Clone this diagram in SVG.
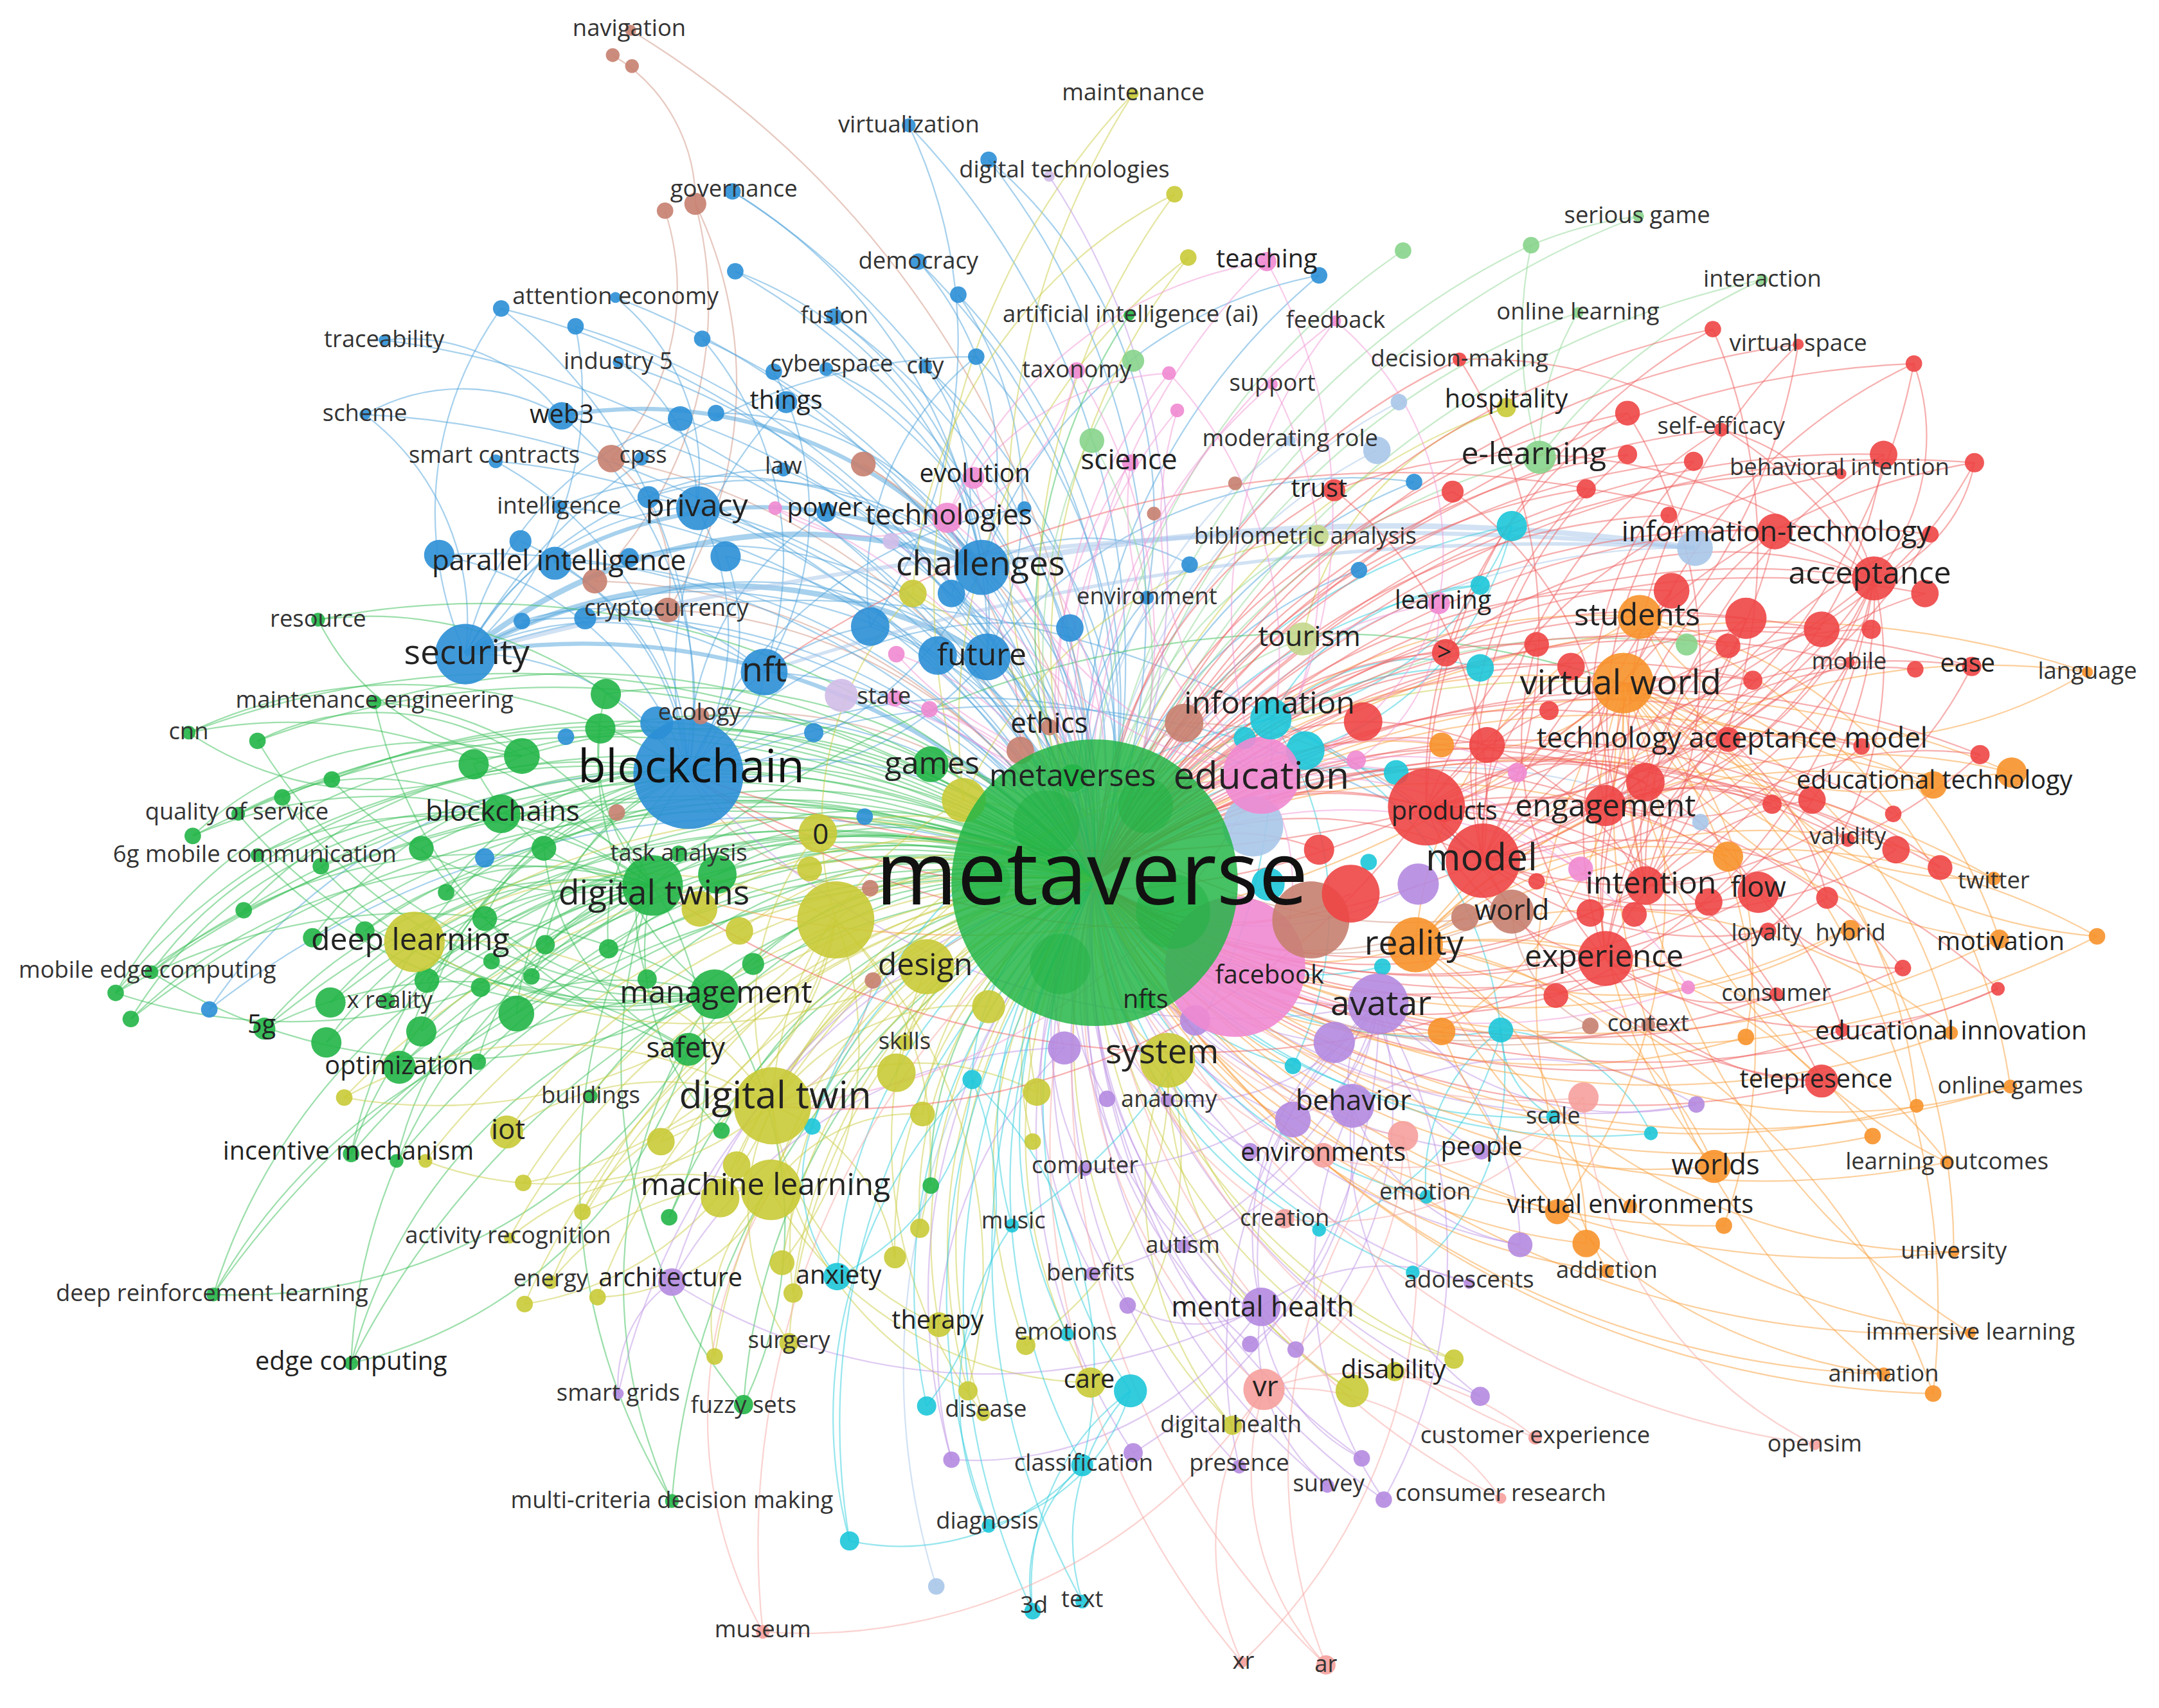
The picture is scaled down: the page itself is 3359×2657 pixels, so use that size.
<svg xmlns="http://www.w3.org/2000/svg" width="3359" height="2657" viewBox="0 0 3359 2657">
<defs><style>
#connectors path{fill:none;stroke-width:1.05;stroke-opacity:.5}
.eb{stroke:#4fa3dc}.eg{stroke:#3cc05a}.elg{stroke:#8fd896}.eo{stroke:#cbcd45}.ep{stroke:#bf96e6}.ec{stroke:#2fcddd}.eor{stroke:#f9a03c}.er{stroke:#f06060}.epk{stroke:#f298d6}.es{stroke:#f6a8a4}.ebr{stroke:#cf9482}.elb{stroke:#a6c5ea}
circle{fill-opacity:.9}
.r{fill:#ee4545}.g{fill:#22b547}.b{fill:#2b8fd6}.o{fill:#c9ca36}.p{fill:#b48ae0}.c{fill:#1cc6d9}.or{fill:#f7922a}.pk{fill:#f08ad2}.s{fill:#f5a09c}.br{fill:#c7806f}.lb{fill:#a9c6e9}.lg{fill:#87d48b}.lp{fill:#d2bde8}.lo{fill:#c3d78c}.dg{fill:#149a36;fill-opacity:.5}
.mv{fill:#22b545;fill-opacity:.84}
text{font-family:"Open Sans","Liberation Sans",Arial,sans-serif;fill:#222;text-anchor:middle}
.f1{font-size:17px;fill:#333}.f2{font-size:18.5px}.f3{font-size:20.5px}.f4{font-size:22.5px}.f5{font-size:25px}.f6{font-size:27.5px}.fb{font-size:33px;fill:#111}.fm{font-size:64px;fill:#111}
</style></defs>
<rect width="3359" height="2657" fill="#fff"/>
<g transform="scale(2.1422)">
<g id="connectors">
<g class="ebr">
<path d="M458 22A700 700 0 0 1 795 640"/><path d="M444 333A466 466 0 0 1 795 640"/><path d="M432 422A423 423 0 0 1 795 640"/><path d="M485 443A367 367 0 0 1 795 640"/><path d="M505 148A297 297 0 0 1 485 443"/><path d="M762 528A120 120 0 0 1 795 640"/><path d="M627 337A346 346 0 0 1 795 640"/><path d="M1098 662A304 304 0 0 1 795 640"/><path d="M860 525A132 132 0 0 0 795 640"/><path d="M1197 744A417 417 0 0 1 795 640"/><path d="M1155 745A375 375 0 0 1 795 640"/><path d="M444 333A118 118 0 0 1 485 443"/><path d="M509 520A310 310 0 0 1 795 640"/><path d="M1064 666A270 270 0 0 1 795 640"/>
<path d="M505 148A285 285 0 0 1 432 422"/><path d="M483 153A184 184 0 0 1 444 333"/><path d="M445 40A124 124 0 0 1 505 148"/><path d="M627 337A237 237 0 0 1 741 545"/><path d="M741 545A376 376 0 0 0 1098 662"/><path d="M860 525A275 275 0 0 1 1098 662"/><path d="M1155 745A100 100 0 0 1 1098 662"/><path d="M632 645A157 157 0 0 1 500 562"/><path d="M634 712A116 116 0 0 1 561 803"/>
</g>
<g class="eb">
<path d="M660 91A565 565 0 0 1 795 640"/><path d="M532 139A566 566 0 0 1 795 640"/><path d="M667 190A468 468 0 0 1 795 640"/><path d="M696 214A437 437 0 0 1 795 640"/><path d="M534 197A514 514 0 0 1 795 640"/><path d="M447 216A548 548 0 0 1 795 640"/><path d="M364 224A599 599 0 0 1 795 640"/><path d="M418 237A552 552 0 0 1 795 640"/><path d="M510 246A486 486 0 0 1 795 640"/><path d="M279 247A649 649 0 0 1 795 640"/><path d="M606 230A451 451 0 0 1 795 640"/><path d="M449 263A512 512 0 0 1 795 640"/><path d="M600 268A420 420 0 0 1 795 640"/><path d="M672 266A394 394 0 0 1 795 640"/><path d="M709 259A391 391 0 0 1 795 640"/><path d="M571 292A414 414 0 0 1 795 640"/><path d="M265 301A629 629 0 0 1 795 640"/><path d="M408 302A514 514 0 0 1 795 640"/><path d="M494 304A451 451 0 0 1 795 640"/><path d="M360 335A531 531 0 0 1 795 640"/><path d="M569 341A375 375 0 0 1 795 640"/><path d="M406 368A475 475 0 0 1 795 640"/><path d="M471 361A428 428 0 0 1 795 640"/><path d="M506 368A397 397 0 0 1 795 640"/><path d="M600 372A331 331 0 0 1 795 640"/><path d="M402 408A456 456 0 0 1 795 640"/><path d="M319 403A532 532 0 0 1 795 640"/><path d="M527 404A357 357 0 0 1 795 640"/><path d="M713 412A242 242 0 0 1 795 640"/><path d="M691 431A233 233 0 0 1 795 640"/><path d="M632 455A247 247 0 0 1 795 640"/><path d="M555 488A284 284 0 0 1 795 640"/><path d="M717 477A181 181 0 0 1 795 640"/><path d="M681 476A200 200 0 0 1 795 640"/><path d="M833 434A210 210 0 0 0 795 640"/><path d="M777 456A185 185 0 0 1 795 640"/><path d="M500 562A305 305 0 0 1 795 640"/><path d="M477 525A338 338 0 0 1 795 640"/><path d="M425 449A416 416 0 0 1 795 640"/><path d="M379 451A457 457 0 0 1 795 640"/><path d="M718 116A530 530 0 0 1 795 640"/><path d="M744 369A276 276 0 0 1 795 640"/><path d="M1027 350A371 371 0 0 0 795 640"/><path d="M864 410A240 240 0 0 0 795 640"/><path d="M958 200A469 469 0 0 0 795 640"/><path d="M152 733A650 650 0 0 1 795 640"/><path d="M987 414A297 297 0 0 0 795 640"/>
<path d="M338 475A184 184 0 0 1 500 562"/><path d="M408 302A276 276 0 0 1 500 562"/><path d="M506 368A194 194 0 0 1 500 562"/><path d="M402 408A183 183 0 0 1 500 562"/><path d="M360 335A267 267 0 0 1 500 562"/><path d="M265 301A189 189 0 0 1 338 475"/><path d="M265 301A143 143 0 0 1 408 302"/><path d="M279 247A140 140 0 0 1 408 302"/><path d="M364 224A364 364 0 0 1 500 562"/><path d="M555 488A92 92 0 0 1 500 562"/><path d="M338 475A217 217 0 0 1 555 488"/><path d="M713 412A260 260 0 0 1 500 562"/><path d="M717 477A233 233 0 0 1 500 562"/><path d="M532 139A385 385 0 0 1 717 477"/><path d="M660 91A365 365 0 0 1 632 455"/><path d="M718 116A338 338 0 0 1 833 434"/><path d="M667 190A227 227 0 0 1 713 412"/><path d="M606 230A271 271 0 0 1 717 477"/><path d="M600 268A183 183 0 0 1 713 412"/><path d="M672 266A166 166 0 0 1 691 431"/><path d="M152 733A388 388 0 0 1 500 562"/><path d="M338 475A199 199 0 0 1 506 368"/><path d="M500 562A416 416 0 0 1 916 563"/><path d="M338 475A754 754 0 0 1 1077 625"/><path d="M500 562A580 580 0 0 1 1077 625"/>
<path d="M364 224A252 252 0 0 0 338 475"/><path d="M418 237A251 251 0 0 1 338 475"/><path d="M447 216A163 163 0 0 1 506 368"/><path d="M510 246A246 246 0 0 1 555 488"/><path d="M449 263A119 119 0 0 1 506 368"/><path d="M534 197A280 280 0 0 1 713 412"/><path d="M696 214A264 264 0 0 1 717 477"/><path d="M709 259A211 211 0 0 0 632 455"/><path d="M562 270A218 218 0 0 1 555 488"/><path d="M571 292A279 279 0 0 0 500 562"/><path d="M494 304A231 231 0 0 0 338 475"/><path d="M520 300A220 220 0 0 1 713 412"/><path d="M471 361A247 247 0 0 1 713 412"/><path d="M378 393A208 208 0 0 1 500 562"/><path d="M319 403A236 236 0 0 1 500 562"/><path d="M457 405A270 270 0 0 1 717 477"/><path d="M527 404A160 160 0 0 1 500 562"/><path d="M425 449A293 293 0 0 1 717 477"/><path d="M379 451A180 180 0 0 1 555 488"/><path d="M632 455A170 170 0 0 0 500 562"/><path d="M681 476A343 343 0 0 0 338 475"/><path d="M777 456A296 296 0 0 0 500 562"/><path d="M600 372A215 215 0 0 0 500 562"/><path d="M569 341A267 267 0 0 0 338 475"/><path d="M406 368A310 310 0 0 1 713 412"/><path d="M744 369A311 311 0 0 0 500 562"/><path d="M864 410A151 151 0 0 0 713 412"/><path d="M1027 350A335 335 0 0 0 717 477"/><path d="M958 200A324 324 0 0 0 713 412"/><path d="M709 259A429 429 0 0 0 338 475"/>
<path d="M338 475A380 380 0 0 1 713 412" style="stroke-width:4"/><path d="M338 475A379 379 0 0 1 717 477" style="stroke-width:4"/><path d="M408 302A324 324 0 0 1 713 412" style="stroke-width:3"/><path d="M402 408A311 311 0 0 1 713 412" style="stroke-width:3"/><path d="M338 475A486 486 0 0 1 795 640" style="stroke-width:3"/>
</g>
<g class="elb">
<path d="M1231 398A499 499 0 0 0 795 640"/><path d="M1000 327A374 374 0 0 0 795 640"/><path d="M1016 292A412 412 0 0 0 795 640"/><path d="M937 320A350 350 0 0 0 795 640"/><path d="M1235 597A442 442 0 0 0 795 640"/><path d="M680 1152A525 525 0 0 1 795 640"/><path d="M910 600A122 122 0 0 0 795 640"/>
<path d="M713 412A1500 1500 0 0 1 1231 398" style="stroke-width:4"/><path d="M338 475A2500 2500 0 0 1 1231 398" style="stroke-width:3"/><path d="M555 488A1800 1800 0 0 1 1231 398" style="stroke-width:2.5"/>
</g>
<g class="eg">
<path d="M231 450A595 595 0 0 1 795 640"/><path d="M272 510A539 539 0 0 1 795 640"/><path d="M137 532A667 667 0 0 1 795 640"/><path d="M187 538A617 617 0 0 1 795 640"/><path d="M241 566A559 559 0 0 1 795 640"/><path d="M205 579A593 593 0 0 1 795 640"/><path d="M173 591A624 624 0 0 1 795 640"/><path d="M140 607A656 656 0 0 1 795 640"/><path d="M187 621A608 608 0 0 1 795 640"/><path d="M233 629A562 562 0 0 1 795 640"/><path d="M177 661A618 618 0 0 1 795 640"/><path d="M227 681A569 569 0 0 1 795 640"/><path d="M265 676A531 531 0 0 1 795 640"/><path d="M110 706A688 688 0 0 1 795 640"/><path d="M84 721A716 716 0 0 1 795 640"/><path d="M95 740A707 707 0 0 1 795 640"/><path d="M192 747A612 612 0 0 1 795 640"/><path d="M240 728A562 562 0 0 1 795 640"/><path d="M281 727A521 521 0 0 1 795 640"/><path d="M237 757A570 570 0 0 1 795 640"/><path d="M306 749A501 501 0 0 1 795 640"/><path d="M290 775A523 523 0 0 1 795 640"/><path d="M347 771A467 467 0 0 1 795 640"/><path d="M375 736A431 431 0 0 1 795 640"/><path d="M310 712A490 490 0 0 1 795 640"/><path d="M255 838A575 575 0 0 1 795 640"/><path d="M288 843A546 546 0 0 1 795 640"/><path d="M155 940A707 707 0 0 1 795 640"/><path d="M255 990A643 643 0 0 1 795 640"/><path d="M540 1020A458 458 0 0 1 795 640"/><path d="M488 1090A545 545 0 0 1 795 640"/><path d="M486 884A394 394 0 0 1 795 640"/><path d="M524 821A326 326 0 0 1 795 640"/><path d="M676 861A251 251 0 0 1 795 640"/><path d="M429 796A398 398 0 0 1 795 640"/><path d="M519 722A288 288 0 0 1 795 640"/><path d="M500 762A319 319 0 0 1 795 640"/><path d="M474 643A321 321 0 0 1 795 640"/><path d="M521 635A274 274 0 0 1 795 640"/><path d="M364 591A434 434 0 0 1 795 640"/><path d="M440 504A380 380 0 0 1 795 640"/><path d="M436 529A376 376 0 0 1 795 640"/><path d="M379 549A426 426 0 0 1 795 640"/><path d="M344 555A459 459 0 0 1 795 640"/><path d="M306 616A490 490 0 0 1 795 640"/><path d="M395 616A401 401 0 0 1 795 640"/><path d="M324 648A471 471 0 0 1 795 640"/><path d="M352 667A444 444 0 0 1 795 640"/><path d="M396 686A402 402 0 0 1 795 640"/><path d="M442 689A356 356 0 0 1 795 640"/><path d="M357 698A442 442 0 0 1 795 640"/><path d="M386 709A415 415 0 0 1 795 640"/><path d="M470 711A333 333 0 0 1 795 640"/><path d="M676 555A146 146 0 0 1 795 640"/><path d="M493 620A303 303 0 0 1 795 640"/><path d="M820 229A412 412 0 0 0 795 640"/><path d="M547 700A255 255 0 0 1 795 640"/>
<path d="M137 532A364 364 0 0 1 500 562"/><path d="M187 621A288 288 0 0 1 474 643"/><path d="M110 706A370 370 0 0 1 474 643"/><path d="M192 747A301 301 0 0 1 474 643"/><path d="M255 990A412 412 0 0 1 474 643"/><path d="M255 990A376 376 0 0 1 519 722"/><path d="M155 940A437 437 0 0 1 474 643"/><path d="M255 838A369 369 0 0 1 500 562"/><path d="M231 450A291 291 0 0 1 500 562"/><path d="M272 510A241 241 0 0 1 474 643"/><path d="M173 591A191 191 0 0 1 364 591"/><path d="M290 775A299 299 0 0 1 500 562"/><path d="M240 728A250 250 0 0 1 474 643"/><path d="M84 721A445 445 0 0 1 500 562"/><path d="M95 740A392 392 0 0 1 474 643"/><path d="M540 1020A385 385 0 0 1 474 643"/><path d="M488 1090A369 369 0 0 1 519 722"/><path d="M364 591A121 121 0 0 1 474 643"/><path d="M187 538A192 192 0 0 1 379 549"/><path d="M84 721A435 435 0 0 1 519 722"/><path d="M155 940A424 424 0 0 1 519 722"/><path d="M110 706A279 279 0 0 1 364 591"/><path d="M140 607A336 336 0 0 1 474 643"/><path d="M137 532A355 355 0 0 1 474 643"/><path d="M192 747A308 308 0 0 1 500 762"/><path d="M255 838A293 293 0 0 1 474 643"/><path d="M290 775A235 235 0 0 1 519 722"/><path d="M474 643A720 720 0 0 1 1179 496"/>
<path d="M187 538A380 380 0 0 0 519 722"/><path d="M241 566A245 245 0 0 0 474 643"/><path d="M205 579A345 345 0 0 0 519 722"/><path d="M233 629A300 300 0 0 0 519 722"/><path d="M177 661A337 337 0 0 1 500 562"/><path d="M227 681A297 297 0 0 1 500 562"/><path d="M265 676A212 212 0 0 1 474 643"/><path d="M281 727A274 274 0 0 1 500 562"/><path d="M237 757A263 263 0 0 1 474 643"/><path d="M306 749A252 252 0 0 1 500 562"/><path d="M347 771A180 180 0 0 1 474 643"/><path d="M375 736A214 214 0 0 1 500 562"/><path d="M310 712A178 178 0 0 1 474 643"/><path d="M288 843A273 273 0 0 1 474 643"/><path d="M486 884A241 241 0 0 0 474 643"/><path d="M524 821A185 185 0 0 1 474 643"/><path d="M440 504A143 143 0 0 0 474 643"/><path d="M436 529A210 210 0 0 0 519 722"/><path d="M344 555A157 157 0 0 0 474 643"/><path d="M306 616A238 238 0 0 0 519 722"/><path d="M395 616A180 180 0 0 0 500 762"/><path d="M324 648A196 196 0 0 1 500 562"/><path d="M352 667A181 181 0 0 1 500 562"/><path d="M396 686A162 162 0 0 1 500 562"/><path d="M442 689A139 139 0 0 1 500 562"/><path d="M357 698A164 164 0 0 0 519 722"/><path d="M386 709A110 110 0 0 1 474 643"/><path d="M470 711A152 152 0 0 1 500 562"/><path d="M95 740A307 307 0 0 1 364 591"/><path d="M84 721A341 341 0 0 1 379 549"/><path d="M140 607A246 246 0 0 1 379 549"/><path d="M137 532A243 243 0 0 0 379 549"/><path d="M231 450A178 178 0 0 0 379 549"/><path d="M272 510A339 339 0 0 0 500 762"/><path d="M255 990A335 335 0 0 0 500 762"/><path d="M155 940A388 388 0 0 0 500 762"/><path d="M488 1090A447 447 0 0 1 474 643"/><path d="M540 1020A299 299 0 0 0 519 722"/><path d="M110 706A409 409 0 0 0 519 722"/><path d="M84 721A398 398 0 0 0 474 643"/><path d="M187 621A347 347 0 0 0 519 722"/><path d="M173 591A373 373 0 0 0 519 722"/>
</g>
<g class="elg">
<path d="M1190 157A624 624 0 0 0 795 640"/><path d="M1112 178A560 560 0 0 0 795 640"/><path d="M1019 182A510 510 0 0 0 795 640"/><path d="M1280 203A653 653 0 0 0 795 640"/><path d="M1146 227A542 542 0 0 0 795 640"/><path d="M1118 332A446 446 0 0 0 795 640"/><path d="M823 262A379 379 0 0 0 795 640"/><path d="M793 320A320 320 0 0 1 795 640"/><path d="M1225 468A463 463 0 0 0 795 640"/><path d="M946 464A232 232 0 0 0 795 640"/><path d="M957 389A299 299 0 0 0 795 640"/>
<path d="M1190 157A300 300 0 0 0 1112 178"/><path d="M1280 203A420 420 0 0 0 1118 332"/><path d="M1146 227A200 200 0 0 0 1118 332"/><path d="M1112 178A320 320 0 0 0 1118 332"/>
</g>
<g class="eo">
<path d="M823 68A573 573 0 0 0 795 640"/><path d="M853 141A502 502 0 0 0 795 640"/><path d="M863 187A458 458 0 0 0 795 640"/><path d="M1094 296A456 456 0 0 0 795 640"/><path d="M301 684A496 496 0 0 1 795 640"/><path d="M250 797A567 567 0 0 1 795 640"/><path d="M368 822A464 464 0 0 1 795 640"/><path d="M480 829A367 367 0 0 1 795 640"/><path d="M309 843A527 527 0 0 1 795 640"/><path d="M380 859A469 469 0 0 1 795 640"/><path d="M423 880A443 443 0 0 1 795 640"/><path d="M370 899A498 498 0 0 1 795 640"/><path d="M400 931A490 490 0 0 1 795 640"/><path d="M381 947A515 515 0 0 1 795 640"/><path d="M434 942A471 471 0 0 1 795 640"/><path d="M561 803A287 287 0 0 1 795 640"/><path d="M560 864A325 325 0 0 1 795 640"/><path d="M523 870A356 356 0 0 1 795 640"/><path d="M535 846A332 332 0 0 1 795 640"/><path d="M568 917A358 358 0 0 1 795 640"/><path d="M576 939A371 371 0 0 1 795 640"/><path d="M519 985A442 442 0 0 1 795 640"/><path d="M573 975A402 402 0 0 1 795 640"/><path d="M650 913A309 309 0 0 1 795 640"/><path d="M668 892A282 282 0 0 1 795 640"/><path d="M682 962A341 341 0 0 1 795 640"/><path d="M703 1010A381 381 0 0 1 795 640"/><path d="M714 1027A395 395 0 0 1 795 640"/><path d="M745 977A341 341 0 0 1 795 640"/><path d="M792 1004A364 364 0 0 1 795 640"/><path d="M895 1035A407 407 0 0 1 795 640"/><path d="M982 1010A415 415 0 0 1 795 640"/><path d="M1013 996A417 417 0 0 1 795 640"/><path d="M1056 987A434 434 0 0 1 795 640"/><path d="M848 770A142 142 0 0 1 795 640"/><path d="M651 779A200 200 0 0 1 795 640"/><path d="M753 793A159 159 0 0 1 795 640"/><path d="M670 809A210 210 0 0 1 795 640"/><path d="M750 829A194 194 0 0 1 795 640"/><path d="M673 702A137 137 0 0 1 795 640"/><path d="M607 668A190 190 0 0 1 795 640"/><path d="M594 605A204 204 0 0 1 795 640"/><path d="M588 631A207 207 0 0 1 795 640"/><path d="M700 581A112 112 0 0 1 795 640"/><path d="M663 431A247 247 0 0 1 795 640"/><path d="M718 731A119 119 0 0 1 795 640"/><path d="M657 757A181 181 0 0 1 795 640"/><path d="M508 660A287 287 0 0 1 795 640"/><path d="M537 676A260 260 0 0 1 795 640"/>
<path d="M301 684A286 286 0 0 1 561 803"/><path d="M368 822A193 193 0 0 1 561 803"/><path d="M250 797A310 310 0 0 1 561 803"/><path d="M370 899A193 193 0 0 1 560 864"/><path d="M400 931A173 173 0 0 1 560 864"/><path d="M573 975A171 171 0 0 1 561 803"/><path d="M682 962A199 199 0 0 1 561 803"/><path d="M792 1004A271 271 0 0 1 560 864"/><path d="M982 1010A273 273 0 0 1 848 770"/><path d="M895 1035A267 267 0 0 1 848 770"/><path d="M1056 987A299 299 0 0 1 848 770"/><path d="M301 684A306 306 0 0 1 607 668"/><path d="M423 880A158 158 0 0 1 561 803"/><path d="M519 985A128 128 0 0 1 560 864"/><path d="M703 1010A251 251 0 0 1 561 803"/><path d="M561 803A428 428 0 0 1 916 563"/><path d="M561 803A690 690 0 0 1 1179 496"/>
<path d="M480 829A205 205 0 0 0 607 668"/><path d="M309 843A255 255 0 0 0 561 803"/><path d="M380 859A297 297 0 0 0 607 668"/><path d="M423 880A301 301 0 0 0 607 668"/><path d="M434 942A148 148 0 0 0 560 864"/><path d="M381 947A231 231 0 0 0 561 803"/><path d="M568 917A252 252 0 0 0 607 668"/><path d="M576 939A256 256 0 0 1 673 702"/><path d="M650 913A142 142 0 0 0 561 803"/><path d="M668 892A232 232 0 0 0 607 668"/><path d="M703 1010A355 355 0 0 0 607 668"/><path d="M714 1027A328 328 0 0 1 673 702"/><path d="M745 977A231 231 0 0 0 848 770"/><path d="M792 1004A241 241 0 0 0 848 770"/><path d="M753 793A192 192 0 0 0 561 803"/><path d="M670 809A123 123 0 0 0 560 864"/><path d="M594 605A201 201 0 0 0 561 803"/><path d="M700 581A262 262 0 0 0 561 803"/><path d="M663 431A244 244 0 0 0 607 668"/><path d="M718 731A173 173 0 0 0 561 803"/><path d="M853 141A347 347 0 0 0 663 431"/><path d="M863 187A426 426 0 0 0 700 581"/><path d="M823 68A528 528 0 0 0 700 581"/><path d="M1094 296A224 224 0 0 0 946 464"/><path d="M957 389A320 320 0 0 0 700 581"/><path d="M301 684A372 372 0 0 0 673 702"/><path d="M250 797A380 380 0 0 0 607 668"/>
</g>
<g class="ep">
<path d="M762 128A513 513 0 0 1 795 640"/><path d="M488 931A423 423 0 0 1 795 640"/><path d="M449 1012A508 508 0 0 1 795 640"/><path d="M804 798A158 158 0 0 1 795 640"/><path d="M848 799A168 168 0 0 1 795 640"/><path d="M788 849A209 209 0 0 1 795 640"/><path d="M793 925A285 285 0 0 1 795 640"/><path d="M819 948A309 309 0 0 1 795 640"/><path d="M860 905A273 273 0 0 1 795 640"/><path d="M916 949A332 332 0 0 1 795 640"/><path d="M908 976A354 354 0 0 1 795 640"/><path d="M941 980A370 370 0 0 1 795 640"/><path d="M691 1060A433 433 0 0 1 795 640"/><path d="M823 1055A416 416 0 0 1 795 640"/><path d="M900 1065A438 438 0 0 1 795 640"/><path d="M989 1059A462 462 0 0 1 795 640"/><path d="M964 1079A470 470 0 0 1 795 640"/><path d="M1005 1089A496 496 0 0 1 795 640"/><path d="M1075 1014A467 467 0 0 1 795 640"/><path d="M982 803A248 248 0 0 1 795 640"/><path d="M939 813A225 225 0 0 1 795 640"/><path d="M908 836A226 226 0 0 1 795 640"/><path d="M1076 836A343 343 0 0 1 795 640"/><path d="M1104 904A406 406 0 0 1 795 640"/><path d="M1067 932A399 399 0 0 1 795 640"/><path d="M1001 729A224 224 0 0 1 795 640"/><path d="M969 757A210 210 0 0 1 795 640"/><path d="M773 761A123 123 0 0 1 795 640"/><path d="M868 741A125 125 0 0 1 795 640"/><path d="M1030 642A235 235 0 0 1 795 640"/><path d="M1232 802A466 466 0 0 1 795 640"/><path d="M611 505A228 228 0 0 1 795 640"/><path d="M647 393A288 288 0 0 1 795 640"/>
<path d="M982 803A76 76 0 0 1 1001 729"/><path d="M916 949A236 236 0 0 1 1001 729"/><path d="M964 1079A139 139 0 0 1 916 949"/><path d="M1005 1089A287 287 0 0 1 982 803"/><path d="M1075 1014A231 231 0 0 1 982 803"/><path d="M488 931A332 332 0 0 1 773 761"/><path d="M449 1012A90 90 0 0 1 488 931"/><path d="M691 1060A310 310 0 0 1 773 761"/><path d="M900 1065A351 351 0 0 1 1001 729"/><path d="M1076 836A131 131 0 0 1 1001 729"/><path d="M1232 802A242 242 0 0 1 1001 729"/><path d="M1104 904A158 158 0 0 1 982 803"/><path d="M989 1059A132 132 0 0 1 916 949"/><path d="M1001 729A528 528 0 0 1 500 562"/>
<path d="M969 757A199 199 0 0 0 916 949"/><path d="M939 813A104 104 0 0 0 1001 729"/><path d="M1104 904A203 203 0 0 0 1001 729"/><path d="M1067 932A152 152 0 0 0 916 949"/><path d="M941 980A258 258 0 0 0 1001 729"/><path d="M908 976A188 188 0 0 0 982 803"/><path d="M819 948A97 97 0 0 0 916 949"/><path d="M691 1060A251 251 0 0 0 916 949"/><path d="M823 1055A371 371 0 0 0 1001 729"/><path d="M793 925A286 286 0 0 0 1001 729"/><path d="M860 905A225 225 0 0 0 1001 729"/><path d="M788 849A244 244 0 0 0 1001 729"/><path d="M848 799A168 168 0 0 0 1001 729"/><path d="M488 931A428 428 0 0 0 916 949"/><path d="M1232 802A250 250 0 0 0 982 803"/><path d="M1005 1089A360 360 0 0 0 1001 729"/>
</g>
<g class="ec">
<path d="M1098 382A398 398 0 0 0 795 640"/><path d="M1075 425A353 353 0 0 0 795 640"/><path d="M1075 485A320 320 0 0 0 795 640"/><path d="M923 522A174 174 0 0 0 795 640"/><path d="M948 545A180 180 0 0 0 795 640"/><path d="M1014 561A233 233 0 0 0 795 640"/><path d="M1090 748A314 314 0 0 1 795 640"/><path d="M1128 811A374 374 0 0 1 795 640"/><path d="M1199 823A443 443 0 0 1 795 640"/><path d="M1036 869A332 332 0 0 1 795 640"/><path d="M1026 924A366 366 0 0 1 795 640"/><path d="M958 893A301 301 0 0 1 795 640"/><path d="M939 774A197 197 0 0 1 795 640"/><path d="M735 890A257 257 0 0 1 795 640"/><path d="M608 927A343 343 0 0 1 795 640"/><path d="M590 818A271 271 0 0 1 795 640"/><path d="M706 784A169 169 0 0 1 795 640"/><path d="M775 969A330 330 0 0 1 795 640"/><path d="M673 1021A400 400 0 0 1 795 640"/><path d="M821 1010A371 371 0 0 1 795 640"/><path d="M786 1064A424 424 0 0 1 795 640"/><path d="M718 1108A474 474 0 0 1 795 640"/><path d="M617 1119A511 511 0 0 1 795 640"/><path d="M750 1170A532 532 0 0 1 795 640"/><path d="M786 1163A523 523 0 0 1 795 640"/><path d="M1004 702A218 218 0 0 1 795 640"/>
<path d="M750 1170A112 112 0 0 1 786 1064"/><path d="M750 1170A175 175 0 0 1 821 1010"/><path d="M786 1163A157 157 0 0 1 821 1010"/><path d="M617 1119A347 347 0 0 1 706 784"/><path d="M718 1108A219 219 0 0 1 735 890"/><path d="M608 927A110 110 0 0 1 590 818"/><path d="M1098 382A224 224 0 0 1 923 522"/><path d="M1128 811A73 73 0 0 1 1090 748"/><path d="M1036 869A133 133 0 0 1 1090 748"/>
<path d="M1075 425A180 180 0 0 0 923 522"/><path d="M1075 485A156 156 0 0 0 923 522"/><path d="M948 545A222 222 0 0 0 1098 382"/><path d="M1090 748A281 281 0 0 0 923 522"/><path d="M1199 823A132 132 0 0 0 1090 748"/><path d="M1026 924A187 187 0 0 0 1090 748"/><path d="M958 893A196 196 0 0 0 1090 748"/><path d="M939 774A252 252 0 0 0 923 522"/><path d="M673 1021A239 239 0 0 0 706 784"/><path d="M608 927A173 173 0 0 0 706 784"/><path d="M786 1064A291 291 0 0 0 706 784"/><path d="M718 1108A142 142 0 0 0 821 1010"/><path d="M617 1119A178 178 0 0 0 786 1064"/><path d="M590 818A445 445 0 0 1 923 522"/><path d="M735 890A413 413 0 0 0 923 522"/>
</g>
<g class="eor">
<path d="M1516 488A737 737 0 0 0 795 640"/><path d="M1179 496A410 410 0 0 0 795 640"/><path d="M1191 448A440 440 0 0 0 795 640"/><path d="M1047 541A271 271 0 0 0 795 640"/><path d="M1255 622A460 460 0 0 0 795 640"/><path d="M1404 570A613 613 0 0 0 795 640"/><path d="M1461 561A671 671 0 0 0 795 640"/><path d="M1448 638A653 653 0 0 0 795 640"/><path d="M1341 675A547 547 0 0 1 795 640"/><path d="M1452 682A658 658 0 0 1 795 640"/><path d="M1523 680A729 729 0 0 1 795 640"/><path d="M1028 686A237 237 0 0 1 795 640"/><path d="M1047 749A275 275 0 0 1 795 640"/><path d="M1268 753A486 486 0 0 1 795 640"/><path d="M1417 750A632 632 0 0 1 795 640"/><path d="M1460 789A681 681 0 0 1 795 640"/><path d="M1392 803A619 619 0 0 1 795 640"/><path d="M1245 847A495 495 0 0 1 795 640"/><path d="M1360 825A595 595 0 0 1 795 640"/><path d="M1414 844A652 652 0 0 1 795 640"/><path d="M1131 880A413 413 0 0 1 795 640"/><path d="M1152 903A443 443 0 0 1 795 640"/><path d="M1167 923A467 467 0 0 1 795 640"/><path d="M1252 890A521 521 0 0 1 795 640"/><path d="M1419 909A680 680 0 0 1 795 640"/><path d="M1431 968A716 716 0 0 1 795 640"/><path d="M1368 998A676 676 0 0 1 795 640"/><path d="M1404 1012A714 714 0 0 1 795 640"/>
<path d="M1516 488A337 337 0 0 1 1179 496"/><path d="M1448 638A304 304 0 0 1 1179 496"/><path d="M1452 682A330 330 0 0 1 1179 496"/><path d="M1404 570A237 237 0 0 1 1179 496"/><path d="M1245 847A357 357 0 0 1 1179 496"/><path d="M1414 844A420 420 0 0 1 1179 496"/><path d="M1368 998A536 536 0 0 1 1179 496"/><path d="M1431 968A535 535 0 0 1 1179 496"/><path d="M1419 909A450 450 0 0 1 1028 686"/><path d="M1460 789A444 444 0 0 1 1028 686"/><path d="M1431 968A492 492 0 0 1 1028 686"/><path d="M1368 998A406 406 0 0 1 1047 749"/><path d="M1523 680A405 405 0 0 1 1191 448"/><path d="M1167 923A427 427 0 0 1 1179 496"/><path d="M1461 561A292 292 0 0 1 1191 448"/><path d="M1341 675A313 313 0 0 1 1028 686"/><path d="M1179 496A720 720 0 0 1 474 643"/>
<path d="M1516 488A526 526 0 0 0 1028 686"/><path d="M1461 561A450 450 0 0 0 1028 686"/><path d="M1523 680A495 495 0 0 0 1028 686"/><path d="M1404 570A393 393 0 0 0 1028 686"/><path d="M1448 638A423 423 0 0 0 1028 686"/><path d="M1452 682A350 350 0 0 0 1191 448"/><path d="M1417 750A348 348 0 0 0 1179 496"/><path d="M1417 750A394 394 0 0 0 1028 686"/><path d="M1392 803A374 374 0 0 0 1179 496"/><path d="M1360 825A360 360 0 0 0 1028 686"/><path d="M1414 844A417 417 0 0 0 1028 686"/><path d="M1245 847A270 270 0 0 0 1028 686"/><path d="M1131 880A387 387 0 0 0 1179 496"/><path d="M1152 903A250 250 0 0 0 1028 686"/><path d="M1252 890A401 401 0 0 0 1179 496"/><path d="M1404 1012A563 563 0 0 0 1179 496"/><path d="M1404 1012A498 498 0 0 0 1028 686"/><path d="M1268 753A272 272 0 0 0 1179 496"/><path d="M1047 749A285 285 0 0 0 1179 496"/><path d="M1255 622A236 236 0 0 0 1028 686"/><path d="M1047 541A139 139 0 0 0 1179 496"/><path d="M1191 448A288 288 0 0 0 1028 686"/><path d="M1419 909A478 478 0 0 0 1179 496"/><path d="M1460 789A434 434 0 0 0 1191 448"/>
</g>
<g class="er">
<path d="M1390 264A704 704 0 0 0 795 640"/><path d="M1306 250A643 643 0 0 0 795 640"/><path d="M1244 239A602 602 0 0 0 795 640"/><path d="M1060 261A462 462 0 0 0 795 640"/><path d="M1182 300A515 515 0 0 0 795 640"/><path d="M1250 312A561 561 0 0 0 795 640"/><path d="M1182 330A496 496 0 0 0 795 640"/><path d="M1230 335A531 531 0 0 0 795 640"/><path d="M1368 330A651 651 0 0 0 795 640"/><path d="M1434 336A708 708 0 0 0 795 640"/><path d="M969 356A333 333 0 0 0 795 640"/><path d="M1055 357A384 384 0 0 0 795 640"/><path d="M1152 355A457 457 0 0 0 795 640"/><path d="M1212 374A495 495 0 0 0 795 640"/><path d="M1289 386A555 555 0 0 0 795 640"/><path d="M1402 388A657 657 0 0 0 795 640"/><path d="M1361 420A608 608 0 0 0 795 640"/><path d="M1398 431A638 638 0 0 0 795 640"/><path d="M1214 429A469 469 0 0 0 795 640"/><path d="M1268 449A510 510 0 0 0 795 640"/><path d="M1323 457A559 559 0 0 0 795 640"/><path d="M1255 469A491 491 0 0 0 795 640"/><path d="M1141 484A380 380 0 0 0 795 640"/><path d="M1116 468A364 364 0 0 0 795 640"/><path d="M1050 474A304 304 0 0 0 795 640"/><path d="M1432 484A656 656 0 0 0 795 640"/><path d="M1343 481A571 571 0 0 0 795 640"/><path d="M1273 494A500 500 0 0 0 795 640"/><path d="M990 524A227 227 0 0 0 795 640"/><path d="M1080 541A302 302 0 0 0 795 640"/><path d="M1255 537A471 471 0 0 0 795 640"/><path d="M1352 542A566 566 0 0 0 795 640"/><path d="M1438 548A650 650 0 0 0 795 640"/><path d="M1195 568A406 406 0 0 0 795 640"/><path d="M1166 585A375 375 0 0 0 795 640"/><path d="M1036 586A247 247 0 0 0 795 640"/><path d="M1287 584A495 495 0 0 0 795 640"/><path d="M1316 581A524 524 0 0 0 795 640"/><path d="M1377 617A582 582 0 0 0 795 640"/><path d="M1409 630A614 614 0 0 0 795 640"/><path d="M1077 625A282 282 0 0 0 795 640"/><path d="M981 649A186 186 0 0 1 795 640"/><path d="M958 617A165 165 0 0 0 795 640"/><path d="M1195 643A400 400 0 0 1 795 640"/><path d="M1277 648A482 482 0 0 1 795 640"/><path d="M1155 663A361 361 0 0 1 795 640"/><path d="M1241 655A446 446 0 0 1 795 640"/><path d="M1327 652A532 532 0 0 1 795 640"/><path d="M1284 676A490 490 0 0 1 795 640"/><path d="M1166 696A375 375 0 0 1 795 640"/><path d="M1130 723A345 345 0 0 1 795 640"/><path d="M1290 722A502 502 0 0 1 795 640"/><path d="M1338 748A554 554 0 0 1 795 640"/><path d="M1382 703A590 590 0 0 1 795 640"/><path d="M1451 718A661 661 0 0 1 795 640"/><path d="M1323 785A548 548 0 0 1 795 640"/><path d="M1049 590A259 259 0 0 0 795 640"/><path d="M1342 610A548 548 0 0 0 795 640"/><path d="M1337 344A618 618 0 0 0 795 640"/>
<path d="M1390 264A158 158 0 0 1 1361 420"/><path d="M1434 336A110 110 0 0 1 1361 420"/><path d="M1250 312A154 154 0 0 1 1361 420"/><path d="M1182 300A343 343 0 0 1 1195 643"/><path d="M1060 261A364 364 0 0 1 1077 625"/><path d="M969 356A290 290 0 0 1 1077 625"/><path d="M1432 484A285 285 0 0 1 1195 643"/><path d="M1343 481A302 302 0 0 1 1077 625"/><path d="M1361 420A351 351 0 0 1 1077 625"/><path d="M1361 420A365 365 0 0 1 1036 586"/><path d="M1255 537A224 224 0 0 1 1036 586"/><path d="M1377 617A300 300 0 0 1 1077 625"/><path d="M1323 785A293 293 0 0 1 1077 625"/><path d="M1290 722A127 127 0 0 1 1166 696"/><path d="M1451 718A286 286 0 0 1 1166 696"/><path d="M1277 648A249 249 0 0 1 1036 586"/><path d="M1402 388A416 416 0 0 1 1036 586"/><path d="M1434 336A301 301 0 0 1 1179 496"/><path d="M1390 264A478 478 0 0 1 1077 625"/><path d="M1306 250A431 431 0 0 1 1036 586"/><path d="M1368 330A325 325 0 0 1 1166 585"/><path d="M1244 239A407 407 0 0 1 1195 643"/><path d="M1438 548A369 369 0 0 1 1077 625"/><path d="M1352 542A191 191 0 0 1 1166 585"/><path d="M1284 676A264 264 0 0 1 1036 586"/><path d="M1166 696A170 170 0 0 1 1036 586"/><path d="M1323 785A180 180 0 0 1 1166 696"/><path d="M1382 703A119 119 0 0 1 1277 648"/><path d="M1036 586A537 537 0 0 1 500 562"/><path d="M1077 625A580 580 0 0 1 500 562"/><path d="M1361 420A255 255 0 0 1 1166 585"/><path d="M1268 449A260 260 0 0 1 1077 625"/><path d="M1289 386A319 319 0 0 1 1077 625"/><path d="M1214 429A237 237 0 0 1 1036 586"/><path d="M1361 420A873 873 0 0 1 500 562"/>
<path d="M1390 264A391 391 0 0 0 1166 585"/><path d="M1306 250A408 408 0 0 0 1195 643"/><path d="M1244 239A404 404 0 0 0 1036 586"/><path d="M1182 300A321 321 0 0 0 1036 586"/><path d="M1250 312A358 358 0 0 0 1077 625"/><path d="M1182 330A313 313 0 0 0 1077 625"/><path d="M1230 335A258 258 0 0 0 1166 585"/><path d="M1368 330A357 357 0 0 0 1195 643"/><path d="M1434 336A460 460 0 0 0 1077 625"/><path d="M1055 357A254 254 0 0 1 1166 585"/><path d="M1152 355A280 280 0 0 0 1077 625"/><path d="M1212 374A270 270 0 0 0 1195 643"/><path d="M1402 388A388 388 0 0 0 1166 696"/><path d="M1398 431A294 294 0 0 0 1195 643"/><path d="M1214 429A271 271 0 0 0 1166 696"/><path d="M1268 449A267 267 0 0 0 1166 696"/><path d="M1323 457A315 315 0 0 0 1036 586"/><path d="M1359 457A328 328 0 0 0 1077 625"/><path d="M1255 469A184 184 0 0 0 1195 643"/><path d="M1141 484A155 155 0 0 0 1077 625"/><path d="M1116 468A233 233 0 0 0 1166 696"/><path d="M1273 494A254 254 0 0 0 1036 586"/><path d="M1391 486A246 246 0 0 0 1166 585"/><path d="M1432 484A382 382 0 0 0 1077 625"/><path d="M1343 481A278 278 0 0 0 1166 696"/><path d="M990 524A237 237 0 0 1 1195 643"/><path d="M1080 541A224 224 0 0 1 1277 648"/><path d="M1352 542A287 287 0 0 0 1077 625"/><path d="M1438 548A261 261 0 0 0 1195 643"/><path d="M1195 568A160 160 0 0 0 1036 586"/><path d="M1287 584A214 214 0 0 0 1077 625"/><path d="M1316 581A189 189 0 0 0 1166 696"/><path d="M1375 591A339 339 0 0 0 1036 586"/><path d="M1409 630A247 247 0 0 0 1166 585"/><path d="M1155 663A318 318 0 0 0 1361 420"/><path d="M1241 655A264 264 0 0 0 1361 420"/><path d="M1327 652A215 215 0 0 0 1179 496"/><path d="M1284 676A267 267 0 0 0 1361 420"/><path d="M1130 723A381 381 0 0 0 1361 420"/><path d="M1338 748A237 237 0 0 0 1166 585"/><path d="M1382 703A365 365 0 0 0 1036 586"/><path d="M1451 718A385 385 0 0 0 1077 625"/><path d="M1323 785A349 349 0 0 0 1036 586"/><path d="M1290 722A288 288 0 0 0 1036 586"/><path d="M1342 610A178 178 0 0 0 1166 585"/><path d="M1337 344A386 386 0 0 0 1036 586"/><path d="M1289 386A334 334 0 0 0 1166 696"/><path d="M1060 261A340 340 0 0 1 1361 420"/><path d="M969 356A397 397 0 0 1 1361 420"/><path d="M1050 474A316 316 0 0 1 1361 420"/><path d="M1036 586A522 522 0 0 1 561 803"/><path d="M1166 696A694 694 0 0 1 474 643"/><path d="M1361 420A809 809 0 0 0 555 488"/>
</g>
<g class="epk">
<path d="M920 190A467 467 0 0 0 795 640"/><path d="M970 233A443 443 0 0 0 795 640"/><path d="M782 269A371 371 0 0 1 795 640"/><path d="M849 271A373 373 0 0 0 795 640"/><path d="M924 279A383 383 0 0 0 795 640"/><path d="M855 298A347 347 0 0 0 795 640"/><path d="M707 347A306 306 0 0 1 795 640"/><path d="M688 376A285 285 0 0 1 795 640"/><path d="M563 369A357 357 0 0 1 795 640"/><path d="M821 336A305 305 0 0 0 795 640"/><path d="M1045 438A324 324 0 0 0 795 640"/><path d="M651 475A219 219 0 0 1 795 640"/><path d="M675 515A173 173 0 0 1 795 640"/><path d="M650 507A197 197 0 0 1 795 640"/><path d="M916 563A143 143 0 0 0 795 640"/><path d="M922 709A140 140 0 0 1 795 640"/><path d="M985 552A209 209 0 0 0 795 640"/><path d="M1102 561A317 317 0 0 0 795 640"/><path d="M1148 631A353 353 0 0 0 795 640"/><path d="M1226 717A438 438 0 0 1 795 640"/>
<path d="M920 190A373 373 0 0 1 916 563"/><path d="M970 233A219 219 0 0 1 1045 438"/><path d="M782 269A142 142 0 0 1 688 376"/><path d="M924 279A284 284 0 0 1 916 563"/><path d="M1045 438A182 182 0 0 1 916 563"/><path d="M849 271A300 300 0 0 1 916 563"/><path d="M916 563A428 428 0 0 1 561 803"/>
<path d="M920 190A297 297 0 0 0 688 376"/><path d="M970 233A334 334 0 0 0 916 563"/><path d="M855 298A272 272 0 0 0 916 563"/><path d="M849 271A192 192 0 0 0 688 376"/><path d="M707 347A301 301 0 0 0 916 563"/><path d="M688 376A295 295 0 0 0 916 563"/><path d="M563 369A125 125 0 0 0 688 376"/><path d="M821 336A246 246 0 0 0 916 563"/><path d="M651 475A280 280 0 0 0 916 563"/><path d="M675 515A246 246 0 0 0 916 563"/><path d="M985 552A129 129 0 0 0 1045 438"/><path d="M1102 561A186 186 0 0 0 916 563"/><path d="M1148 631A242 242 0 0 0 916 563"/><path d="M1226 717A346 346 0 0 0 916 563"/><path d="M922 709A146 146 0 0 0 916 563"/>
</g>
<g class="es">
<path d="M918 1009A389 389 0 0 1 795 640"/><path d="M902 1207A577 577 0 0 1 795 640"/><path d="M963 1209A593 593 0 0 1 795 640"/><path d="M554 1185A596 596 0 0 1 795 640"/><path d="M933 885A281 281 0 0 1 795 640"/><path d="M961 839A259 259 0 0 1 795 640"/><path d="M1019 825A290 290 0 0 1 795 640"/><path d="M1150 797A388 388 0 0 1 795 640"/><path d="M1115 1044A515 515 0 0 1 795 640"/><path d="M1090 1088A536 536 0 0 1 795 640"/><path d="M1318 1049A664 664 0 0 1 795 640"/>
<path d="M963 1209A205 205 0 0 1 918 1009"/><path d="M902 1207A199 199 0 0 1 918 1009"/><path d="M1318 1049A303 303 0 0 1 1150 797"/><path d="M963 1209A388 388 0 0 1 1019 825"/><path d="M554 1185A321 321 0 0 1 560 864"/>
<path d="M918 1009A210 210 0 0 0 1019 825"/><path d="M933 885A234 234 0 0 0 1150 797"/><path d="M961 839A194 194 0 0 0 1150 797"/><path d="M1115 1044A200 200 0 0 0 918 1009"/><path d="M1090 1088A189 189 0 0 0 918 1009"/><path d="M554 1185A404 404 0 0 0 918 1009"/><path d="M902 1207A400 400 0 0 0 1019 825"/>
</g>
</g>
<g id="nodes">
<g id="u1"><circle class="br" cx="445" cy="40" r="5"/></g>
<g id="u2"><circle class="br" cx="459" cy="48" r="5"/></g>
<g id="u3"><circle class="br" cx="505" cy="148" r="8"/></g>
<g id="u4"><circle class="br" cx="483" cy="153" r="6"/></g>
<g id="u5"><circle class="br" cx="444" cy="333" r="10"/></g>
<g id="u6"><circle class="br" cx="432" cy="422" r="9"/></g>
<g id="u7"><circle class="br" cx="627" cy="337" r="9"/></g>
<g id="u8"><circle class="br" cx="741" cy="545" r="10"/></g>
<g id="u9"><circle class="br" cx="860" cy="525" r="14"/></g>
<g id="u10"><circle class="br" cx="1064" cy="666" r="10"/></g>
<g id="u11"><circle class="br" cx="1155" cy="745" r="6"/></g>
<g id="u12"><circle class="br" cx="632" cy="645" r="6"/></g>
<g id="u13"><circle class="br" cx="634" cy="712" r="6"/></g>
<g id="u14"><circle class="br" cx="448" cy="590" r="6"/></g>
<g id="u15"><circle class="br" cx="897" cy="351" r="5"/></g>
<g id="u16"><circle class="br" cx="838" cy="373" r="5"/></g>
<g id="u17"><circle class="b" cx="718" cy="116" r="6"/></g>
<g id="u18"><circle class="b" cx="696" cy="214" r="6"/></g>
<g id="u19"><circle class="b" cx="534" cy="197" r="6"/></g>
<g id="u20"><circle class="b" cx="364" cy="224" r="6"/></g>
<g id="u21"><circle class="b" cx="418" cy="237" r="6"/></g>
<g id="u22"><circle class="b" cx="510" cy="246" r="6"/></g>
<g id="u23"><circle class="b" cx="709" cy="259" r="6"/></g>
<g id="u24"><circle class="b" cx="562" cy="270" r="6"/></g>
<g id="u25"><circle class="b" cx="494" cy="304" r="9"/></g>
<g id="u26"><circle class="b" cx="520" cy="300" r="6"/></g>
<g id="u27"><circle class="b" cx="471" cy="361" r="8"/></g>
<g id="u28"><circle class="b" cx="378" cy="393" r="8"/></g>
<g id="u29"><circle class="b" cx="319" cy="403" r="11"/></g>
<g id="u30"><circle class="b" cx="457" cy="405" r="7"/></g>
<g id="u31"><circle class="b" cx="527" cy="404" r="11"/></g>
<g id="u32"><circle class="b" cx="425" cy="449" r="8"/></g>
<g id="u33"><circle class="b" cx="379" cy="451" r="6"/></g>
<g id="u34"><circle class="b" cx="691" cy="431" r="10"/></g>
<g id="u35"><circle class="b" cx="632" cy="455" r="14"/></g>
<g id="u36"><circle class="b" cx="681" cy="476" r="14"/></g>
<g id="u37"><circle class="b" cx="777" cy="456" r="10"/></g>
<g id="u38"><circle class="b" cx="477" cy="525" r="12"/></g>
<g id="u39"><circle class="b" cx="411" cy="535" r="6"/></g>
<g id="u40"><circle class="b" cx="591" cy="532" r="7"/></g>
<g id="u41"><circle class="b" cx="628" cy="593" r="6"/></g>
<g id="u42"><circle class="b" cx="744" cy="369" r="5"/></g>
<g id="u43"><circle class="b" cx="1027" cy="350" r="6"/></g>
<g id="u44"><circle class="b" cx="864" cy="410" r="6"/></g>
<g id="u45"><circle class="b" cx="958" cy="200" r="6"/></g>
<g id="u46"><circle class="b" cx="352" cy="623" r="7"/></g>
<g id="u47"><circle class="b" cx="152" cy="733" r="6"/></g>
<g id="u48"><circle class="b" cx="987" cy="414" r="6"/></g>
<g id="u49"><circle class="g" cx="187" cy="538" r="6"/></g>
<g id="u50"><circle class="g" cx="241" cy="566" r="6"/></g>
<g id="u51"><circle class="g" cx="205" cy="579" r="6"/></g>
<g id="u52"><circle class="g" cx="140" cy="607" r="6"/></g>
<g id="u53"><circle class="g" cx="233" cy="629" r="6"/></g>
<g id="u54"><circle class="g" cx="177" cy="661" r="6"/></g>
<g id="u55"><circle class="g" cx="227" cy="681" r="7"/></g>
<g id="u56"><circle class="g" cx="265" cy="676" r="7"/></g>
<g id="u57"><circle class="g" cx="84" cy="721" r="6"/></g>
<g id="u58"><circle class="g" cx="95" cy="740" r="6"/></g>
<g id="u59"><circle class="g" cx="310" cy="712" r="9"/></g>
<g id="u60"><circle class="g" cx="349" cy="717" r="7"/></g>
<g id="u61"><circle class="g" cx="375" cy="736" r="13"/></g>
<g id="u62"><circle class="g" cx="306" cy="749" r="11"/></g>
<g id="u63"><circle class="g" cx="237" cy="757" r="11"/></g>
<g id="u64"><circle class="g" cx="347" cy="771" r="6"/></g>
<g id="u65"><circle class="g" cx="288" cy="843" r="5"/></g>
<g id="u66"><circle class="g" cx="486" cy="884" r="6"/></g>
<g id="u67"><circle class="g" cx="524" cy="821" r="6"/></g>
<g id="u68"><circle class="g" cx="676" cy="861" r="6"/></g>
<g id="u69"><circle class="g" cx="440" cy="504" r="11"/></g>
<g id="u70"><circle class="g" cx="436" cy="529" r="11"/></g>
<g id="u71"><circle class="g" cx="379" cy="549" r="13"/></g>
<g id="u72"><circle class="g" cx="344" cy="555" r="11"/></g>
<g id="u73"><circle class="g" cx="306" cy="616" r="9"/></g>
<g id="u74"><circle class="g" cx="395" cy="616" r="9"/></g>
<g id="u75"><circle class="g" cx="324" cy="648" r="6"/></g>
<g id="u76"><circle class="g" cx="352" cy="667" r="9"/></g>
<g id="u77"><circle class="g" cx="396" cy="686" r="7"/></g>
<g id="u78"><circle class="g" cx="442" cy="689" r="7"/></g>
<g id="u79"><circle class="g" cx="357" cy="698" r="6"/></g>
<g id="u80"><circle class="g" cx="386" cy="709" r="6"/></g>
<g id="u81"><circle class="g" cx="470" cy="711" r="7"/></g>
<g id="u82"><circle class="g" cx="521" cy="635" r="14"/></g>
<g id="u83"><circle class="g" cx="547" cy="700" r="8"/></g>
<g id="u84"><circle class="g" cx="240" cy="728" r="11"/></g>
<g id="u85"><circle class="lg" cx="1112" cy="178" r="6"/></g>
<g id="u86"><circle class="lg" cx="1019" cy="182" r="6"/></g>
<g id="u87"><circle class="lg" cx="823" cy="262" r="8"/></g>
<g id="u88"><circle class="lg" cx="793" cy="320" r="9"/></g>
<g id="u89"><circle class="lg" cx="1225" cy="468" r="8"/></g>
<g id="u90"><circle class="o" cx="853" cy="141" r="6"/></g>
<g id="u91"><circle class="o" cx="863" cy="187" r="6"/></g>
<g id="u92"><circle class="o" cx="663" cy="431" r="10"/></g>
<g id="u93"><circle class="o" cx="700" cy="581" r="16"/></g>
<g id="u94"><circle class="o" cx="607" cy="668" r="28"/></g>
<g id="u95"><circle class="o" cx="588" cy="631" r="9"/></g>
<g id="u96"><circle class="o" cx="718" cy="731" r="12"/></g>
<g id="u97"><circle class="o" cx="651" cy="779" r="14"/></g>
<g id="u98"><circle class="o" cx="753" cy="793" r="10"/></g>
<g id="u99"><circle class="o" cx="670" cy="809" r="9"/></g>
<g id="u100"><circle class="o" cx="750" cy="829" r="6"/></g>
<g id="u101"><circle class="o" cx="250" cy="797" r="6"/></g>
<g id="u102"><circle class="o" cx="480" cy="829" r="10"/></g>
<g id="u103"><circle class="o" cx="309" cy="843" r="5"/></g>
<g id="u104"><circle class="o" cx="380" cy="859" r="6"/></g>
<g id="u105"><circle class="o" cx="423" cy="880" r="6"/></g>
<g id="u106"><circle class="o" cx="381" cy="947" r="6"/></g>
<g id="u107"><circle class="o" cx="434" cy="942" r="6"/></g>
<g id="u108"><circle class="o" cx="523" cy="870" r="14"/></g>
<g id="u109"><circle class="o" cx="535" cy="846" r="10"/></g>
<g id="u110"><circle class="o" cx="568" cy="917" r="9"/></g>
<g id="u111"><circle class="o" cx="576" cy="939" r="7"/></g>
<g id="u112"><circle class="o" cx="519" cy="985" r="6"/></g>
<g id="u113"><circle class="o" cx="650" cy="913" r="8"/></g>
<g id="u114"><circle class="o" cx="668" cy="892" r="7"/></g>
<g id="u115"><circle class="o" cx="703" cy="1010" r="7"/></g>
<g id="u116"><circle class="o" cx="745" cy="977" r="7"/></g>
<g id="u117"><circle class="o" cx="982" cy="1010" r="12"/></g>
<g id="u118"><circle class="o" cx="1056" cy="987" r="7"/></g>
<g id="u119"><circle class="o" cx="508" cy="660" r="13"/></g>
<g id="u120"><circle class="o" cx="537" cy="676" r="10"/></g>
<g id="u121"><circle class="p" cx="773" cy="761" r="12"/></g>
<g id="u122"><circle class="p" cx="868" cy="741" r="11"/></g>
<g id="u123"><circle class="p" cx="969" cy="757" r="15"/></g>
<g id="u124"><circle class="p" cx="1030" cy="642" r="15"/></g>
<g id="u125"><circle class="p" cx="939" cy="813" r="13"/></g>
<g id="u126"><circle class="p" cx="1232" cy="802" r="6"/></g>
<g id="u127"><circle class="p" cx="1104" cy="904" r="9"/></g>
<g id="u128"><circle class="p" cx="819" cy="948" r="6"/></g>
<g id="u129"><circle class="p" cx="908" cy="976" r="6"/></g>
<g id="u130"><circle class="p" cx="941" cy="980" r="6"/></g>
<g id="u131"><circle class="p" cx="691" cy="1060" r="6"/></g>
<g id="u132"><circle class="p" cx="823" cy="1055" r="7"/></g>
<g id="u133"><circle class="p" cx="989" cy="1059" r="6"/></g>
<g id="u134"><circle class="p" cx="1075" cy="1014" r="7"/></g>
<g id="u135"><circle class="p" cx="908" cy="836" r="6"/></g>
<g id="u136"><circle class="p" cx="804" cy="798" r="6"/></g>
<g id="u137"><circle class="p" cx="1005" cy="1089" r="6"/></g>
<g id="u138"><circle class="lp" cx="611" cy="505" r="12"/></g>
<g id="u139"><circle class="lp" cx="647" cy="393" r="6"/></g>
<g id="u140"><circle class="c" cx="1098" cy="382" r="11"/></g>
<g id="u141"><circle class="c" cx="1075" cy="425" r="7"/></g>
<g id="u142"><circle class="c" cx="1075" cy="485" r="10"/></g>
<g id="u143"><circle class="c" cx="948" cy="545" r="14"/></g>
<g id="u144"><circle class="c" cx="904" cy="536" r="8"/></g>
<g id="u145"><circle class="c" cx="1014" cy="561" r="9"/></g>
<g id="u146"><circle class="c" cx="994" cy="626" r="6"/></g>
<g id="u147"><circle class="c" cx="1004" cy="702" r="6"/></g>
<g id="u148"><circle class="c" cx="1090" cy="748" r="9"/></g>
<g id="u149"><circle class="c" cx="939" cy="774" r="6"/></g>
<g id="u150"><circle class="c" cx="1199" cy="823" r="5"/></g>
<g id="u151"><circle class="c" cx="958" cy="893" r="5"/></g>
<g id="u152"><circle class="c" cx="1026" cy="924" r="5"/></g>
<g id="u153"><circle class="c" cx="590" cy="818" r="6"/></g>
<g id="u154"><circle class="c" cx="706" cy="784" r="7"/></g>
<g id="u155"><circle class="c" cx="673" cy="1021" r="7"/></g>
<g id="u156"><circle class="c" cx="821" cy="1010" r="12"/></g>
<g id="u157"><circle class="c" cx="617" cy="1119" r="7"/></g>
<g id="u158"><circle class="or" cx="1047" cy="541" r="9"/></g>
<g id="u159"><circle class="or" cx="1255" cy="622" r="11"/></g>
<g id="u160"><circle class="or" cx="1461" cy="561" r="11"/></g>
<g id="u161"><circle class="or" cx="1523" cy="680" r="6"/></g>
<g id="u162"><circle class="or" cx="1047" cy="749" r="10"/></g>
<g id="u163"><circle class="or" cx="1268" cy="753" r="6"/></g>
<g id="u164"><circle class="or" cx="1392" cy="803" r="5"/></g>
<g id="u165"><circle class="or" cx="1360" cy="825" r="6"/></g>
<g id="u166"><circle class="or" cx="1131" cy="880" r="9"/></g>
<g id="u167"><circle class="or" cx="1152" cy="903" r="10"/></g>
<g id="u168"><circle class="or" cx="1252" cy="890" r="6"/></g>
<g id="u169"><circle class="or" cx="1404" cy="1012" r="6"/></g>
<g id="u170"><circle class="r" cx="1390" cy="264" r="6"/></g>
<g id="u171"><circle class="r" cx="1244" cy="239" r="6"/></g>
<g id="u172"><circle class="r" cx="1182" cy="300" r="9"/></g>
<g id="u173"><circle class="r" cx="1182" cy="330" r="7"/></g>
<g id="u174"><circle class="r" cx="1230" cy="335" r="7"/></g>
<g id="u175"><circle class="r" cx="1368" cy="330" r="10"/></g>
<g id="u176"><circle class="r" cx="1434" cy="336" r="7"/></g>
<g id="u177"><circle class="r" cx="1055" cy="357" r="8"/></g>
<g id="u178"><circle class="r" cx="1152" cy="355" r="7"/></g>
<g id="u179"><circle class="r" cx="1212" cy="374" r="6"/></g>
<g id="u180"><circle class="r" cx="1402" cy="388" r="6"/></g>
<g id="u181"><circle class="r" cx="1398" cy="431" r="10"/></g>
<g id="u182"><circle class="r" cx="1214" cy="429" r="13"/></g>
<g id="u183"><circle class="r" cx="1268" cy="449" r="15"/></g>
<g id="u184"><circle class="r" cx="1323" cy="457" r="13"/></g>
<g id="u185"><circle class="r" cx="1359" cy="457" r="7"/></g>
<g id="u186"><circle class="r" cx="1255" cy="469" r="9"/></g>
<g id="u187"><circle class="r" cx="1141" cy="484" r="10"/></g>
<g id="u188"><circle class="r" cx="1116" cy="468" r="9"/></g>
<g id="u189"><circle class="r" cx="1125" cy="516" r="7"/></g>
<g id="u190"><circle class="r" cx="1273" cy="494" r="7"/></g>
<g id="u191"><circle class="r" cx="1391" cy="486" r="6"/></g>
<g id="u192"><circle class="r" cx="990" cy="524" r="14"/></g>
<g id="u193"><circle class="r" cx="1080" cy="541" r="13"/></g>
<g id="u194"><circle class="r" cx="1352" cy="542" r="6"/></g>
<g id="u195"><circle class="r" cx="1438" cy="548" r="7"/></g>
<g id="u196"><circle class="r" cx="1195" cy="568" r="14"/></g>
<g id="u197"><circle class="r" cx="1036" cy="586" r="28"/></g>
<g id="u198"><circle class="r" cx="1287" cy="584" r="7"/></g>
<g id="u199"><circle class="r" cx="1316" cy="581" r="10"/></g>
<g id="u200"><circle class="r" cx="1375" cy="591" r="6"/></g>
<g id="u201"><circle class="r" cx="1377" cy="617" r="10"/></g>
<g id="u202"><circle class="r" cx="1409" cy="630" r="9"/></g>
<g id="u203"><circle class="r" cx="1116" cy="640" r="6"/></g>
<g id="u204"><circle class="r" cx="1155" cy="663" r="10"/></g>
<g id="u205"><circle class="r" cx="1187" cy="664" r="9"/></g>
<g id="u206"><circle class="r" cx="1241" cy="655" r="10"/></g>
<g id="u207"><circle class="r" cx="1327" cy="652" r="8"/></g>
<g id="u208"><circle class="r" cx="1130" cy="723" r="9"/></g>
<g id="u209"><circle class="r" cx="1338" cy="748" r="5"/></g>
<g id="u210"><circle class="r" cx="1382" cy="703" r="6"/></g>
<g id="u211"><circle class="r" cx="1451" cy="718" r="5"/></g>
<g id="u212"><circle class="pk" cx="849" cy="271" r="5"/></g>
<g id="u213"><circle class="pk" cx="855" cy="298" r="5"/></g>
<g id="u214"><circle class="pk" cx="563" cy="369" r="5"/></g>
<g id="u215"><circle class="pk" cx="651" cy="475" r="6"/></g>
<g id="u216"><circle class="pk" cx="675" cy="515" r="6"/></g>
<g id="u217"><circle class="pk" cx="985" cy="552" r="7"/></g>
<g id="u218"><circle class="pk" cx="1102" cy="561" r="7"/></g>
<g id="u219"><circle class="pk" cx="1148" cy="631" r="9"/></g>
<g id="u220"><circle class="pk" cx="1226" cy="717" r="5"/></g>
<g id="u221"><circle class="pk" cx="897" cy="702" r="51"/></g>
<g id="u222"><circle class="s" cx="1019" cy="825" r="11"/></g>
<g id="u223"><circle class="s" cx="1150" cy="797" r="11"/></g>
<g id="u224"><circle class="lb" cx="1231" cy="398" r="13"/></g>
<g id="u225"><circle class="lb" cx="1000" cy="327" r="10"/></g>
<g id="u226"><circle class="lb" cx="1016" cy="292" r="6"/></g>
<g id="u227"><circle class="lb" cx="1235" cy="597" r="6"/></g>
<g id="u228"><circle class="lb" cx="680" cy="1152" r="6"/></g>
<g id="u229"><circle class="lb" cx="910" cy="600" r="22"/></g>
<g id="u230"><circle class="br" cx="952" cy="668" r="28"/></g>
<g id="u231"><circle class="r" cx="958" cy="617" r="11"/></g>
<g id="u232"><circle class="r" cx="981" cy="649" r="21"/></g>
<g id="u233"><circle class="c" cx="921" cy="642" r="12"/></g>
<g id="u234"><circle class="dg" cx="760" cy="598" r="24"/></g>
<g id="u235"><circle class="dg" cx="832" cy="585" r="20"/></g>
<g id="u236"><circle class="dg" cx="852" cy="662" r="27"/></g>
<g id="u237"><circle class="dg" cx="770" cy="700" r="22"/></g>
<g id="u238"><circle class="dg" cx="718" cy="640" r="16"/></g>

<g id="n-metaverse"><circle class="mv" cx="795" cy="641" r="104"/><text class="fm" x="793" y="657">metaverse</text></g>
<g id="n-blockchain"><circle class="b" cx="500" cy="562" r="40"/><text class="fb" x="502" y="568">blockchain</text></g>
<g id="n-education"><circle class="pk" cx="916" cy="563" r="28"/><text class="f6" x="916" y="573">education</text></g>
<g id="n-digital-twin"><circle class="o" cx="561" cy="803" r="28"/><text class="f6" x="563" y="805">digital twin</text></g>
<g id="n-model"><circle class="r" cx="1077" cy="625" r="27"/><text class="f6" x="1076" y="632">model</text></g>
<g id="n-virtual-world"><circle class="or" cx="1179" cy="496" r="22"/><text class="f5" x="1177" y="504">virtual world</text></g>
<g id="n-security"><circle class="b" cx="338" cy="475" r="22"/><text class="f5" x="339" y="482">security</text></g>
<g id="n-digital-twins"><circle class="g" cx="474" cy="643" r="22"/><text class="f5" x="475" y="657">digital twins</text></g>
<g id="n-deep-learning"><circle class="o" cx="301" cy="684" r="22"/><text class="f4" x="298" y="690">deep learning</text></g>
<g id="n-avatar"><circle class="p" cx="1001" cy="729" r="22"/><text class="f5" x="1003" y="737">avatar</text></g>
<g id="n-machine-learning"><circle class="o" cx="560" cy="864" r="22"/><text class="f4" x="556" y="868">machine learning</text></g>
<g id="n-experience"><circle class="r" cx="1166" cy="696" r="20"/><text class="f4" x="1165" y="702">experience</text></g>
<g id="n-reality"><circle class="or" cx="1028" cy="686" r="20"/><text class="f5" x="1027" y="693">reality</text></g>
<g id="n-design"><circle class="o" cx="673" cy="702" r="20"/><text class="f4" x="672" y="708">design</text></g>
<g id="n-system"><circle class="o" cx="848" cy="770" r="20"/><text class="f5" x="844" y="772">system</text></g>
<g id="n-challenges"><circle class="b" cx="713" cy="412" r="20"/><text class="f5" x="712" y="418">challenges</text></g>
<g id="n-management"><circle class="g" cx="519" cy="722" r="18"/><text class="f4" x="520" y="728">management</text></g>
<g id="n-nft"><circle class="b" cx="555" cy="488" r="17"/><text class="f5" x="555" y="495">nft</text></g>
<g id="n-future"><circle class="b" cx="717" cy="477" r="17"/><text class="f4" x="713" y="483">future</text></g>
<g id="n-privacy"><circle class="b" cx="507" cy="369" r="16"/><text class="f4" x="506" y="375">privacy</text></g>
<g id="n-acceptance"><circle class="r" cx="1361" cy="420" r="16"/><text class="f4" x="1358" y="424">acceptance</text></g>
<g id="n-students"><circle class="or" cx="1191" cy="448" r="16"/><text class="f4" x="1189" y="454">students</text></g>
<g id="n-world"><circle class="br" cx="1098" cy="662" r="16"/><text class="f3" x="1098" y="668">world</text></g>
<g id="n-behavior"><circle class="p" cx="982" cy="803" r="16"/><text class="f3" x="983" y="806">behavior</text></g>
<g id="n-engagement"><circle class="r" cx="1166" cy="585" r="15"/><text class="f4" x="1166" y="593">engagement</text></g>
<g id="n-flow"><circle class="r" cx="1277" cy="648" r="15"/><text class="f3" x="1277" y="651">flow</text></g>
<g id="n-information"><circle class="c" cx="923" cy="522" r="15"/><text class="f4" x="922" y="518">information</text></g>
<g id="n-vr"><circle class="s" cx="918" cy="1009" r="15"/><text class="f3" x="919" y="1014">vr</text></g>
<g id="n-0"><circle class="o" cx="594" cy="605" r="14"/><text class="f3" x="596" y="613">0</text></g>
<g id="n-blockchains"><circle class="g" cx="364" cy="591" r="14"/><text class="f3" x="365" y="596">blockchains</text></g>
<g id="n-intention"><circle class="r" cx="1195" cy="643" r="14"/><text class="f4" x="1199" y="649">intention</text></g>
<g id="n-mental-health"><circle class="p" cx="916" cy="949" r="14"/><text class="f3" x="917" y="956">mental health</text></g>
<g id="n-games"><circle class="g" cx="676" cy="555" r="13"/><text class="f4" x="677" y="562">games</text></g>
<g id="n-information-technology"><circle class="r" cx="1289" cy="386" r="13"/><text class="f3" x="1290" y="393">information-technology</text></g>
<g id="n-parallel-intelligence"><circle class="b" cx="403" cy="409" r="12"/><text class="f3" x="406" y="414">parallel intelligence</text></g>
<g id="n-e-learning"><circle class="lg" cx="1118" cy="332" r="12"/><text class="f4" x="1114" y="337">e-learning</text></g>
<g id="n-tourism"><circle class="lo" cx="946" cy="464" r="12"/><text class="f3" x="951" y="469">tourism</text></g>
<g id="n-safety"><circle class="g" cx="500" cy="762" r="12"/><text class="f3" x="498" y="768">safety</text></g>
<g id="n-optimization"><circle class="g" cx="290" cy="775" r="12"/><text class="f2" x="290" y="780">optimization</text></g>
<g id="n-telepresence"><circle class="r" cx="1323" cy="785" r="12"/><text class="f2" x="1319" y="790">telepresence</text></g>
<g id="n-iot"><circle class="o" cx="368" cy="822" r="12"/><text class="f3" x="369" y="827">iot</text></g>
<g id="n-worlds"><circle class="or" cx="1245" cy="847" r="12"/><text class="f3" x="1246" y="853">worlds</text></g>
<g id="n-technologies"><circle class="pk" cx="688" cy="376" r="11"/><text class="f3" x="689" y="381">technologies</text></g>
<g id="n-care"><circle class="o" cx="792" cy="1004" r="11"/><text class="f2" x="791" y="1008">care</text></g>
<g id="n-web3"><circle class="b" cx="408" cy="302" r="10"/><text class="f2" x="408" y="307">web3</text></g>
<g id="n-gt"><circle class="r" cx="1050" cy="474" r="10"/><text class="f2" x="1049" y="480">&gt;</text></g>
<g id="n-metaverses"><circle class="g" cx="779" cy="565" r="10"/><text class="f4" x="779" y="571">metaverses</text></g>
<g id="n-educational-technology"><circle class="or" cx="1404" cy="570" r="10"/><text class="f2" x="1405" y="573">educational technology</text></g>
<g id="n-architecture"><circle class="p" cx="488" cy="931" r="10"/><text class="f2" x="487" y="934">architecture</text></g>
<g id="n-anxiety"><circle class="c" cx="608" cy="927" r="10"/><text class="f2" x="609" y="932">anxiety</text></g>
<g id="n-cryptocurrency"><circle class="br" cx="485" cy="443" r="9"/><text class="f1" x="484" y="447">cryptocurrency</text></g>
<g id="n-technology-acceptance-model"><circle class="r" cx="1255" cy="537" r="9"/><text class="f3" x="1258" y="543">technology acceptance model</text></g>
<g id="n-therapy"><circle class="o" cx="682" cy="962" r="9"/><text class="f2" x="681" y="965">therapy</text></g>
<g id="n-things"><circle class="b" cx="571" cy="292" r="8"/><text class="f2" x="571" y="297">things</text></g>
<g id="n-evolution"><circle class="pk" cx="707" cy="347" r="8"/><text class="f2" x="708" y="350">evolution</text></g>
<g id="n-trust"><circle class="r" cx="969" cy="356" r="8"/><text class="f2" x="958" y="361">trust</text></g>
<g id="n-bibliometric-analysis"><circle class="lo" cx="957" cy="389" r="8"/><text class="f1" x="948" y="395">bibliometric analysis</text></g>
<g id="n-learning"><circle class="pk" cx="1045" cy="438" r="8"/><text class="f2" x="1048" y="442">learning</text></g>
<g id="n-5g"><circle class="g" cx="192" cy="747" r="8"/><text class="f2" x="190" y="750">5g</text></g>
<g id="n-environments"><circle class="s" cx="961" cy="839" r="9"/><text class="f2" x="961" y="843">environments</text></g>
<g id="n-classification"><circle class="c" cx="786" cy="1064" r="8"/><text class="f1" x="787" y="1068">classification</text></g>
<g id="n-teaching"><circle class="pk" cx="920" cy="190" r="7"/><text class="f2" x="920" y="194">teaching</text></g>
<g id="n-hospitality"><circle class="o" cx="1094" cy="296" r="7"/><text class="f2" x="1094" y="296">hospitality</text></g>
<g id="n-power"><circle class="b" cx="600" cy="372" r="7"/><text class="f2" x="599" y="375">power</text></g>
<g id="n-ease"><circle class="r" cx="1432" cy="484" r="7"/><text class="f2" x="1429" y="488">ease</text></g>
<g id="n-products"><circle class="r" cx="1049" cy="590" r="7"/><text class="f2" x="1049" y="595">products</text></g>
<g id="n-hybrid"><circle class="or" cx="1344" cy="675" r="7"/><text class="f1" x="1344" y="683">hybrid</text></g>
<g id="n-motivation"><circle class="or" cx="1452" cy="682" r="7"/><text class="f2" x="1453" y="690">motivation</text></g>
<g id="n-nfts"><circle class="g" cx="832" cy="727" r="7"/><text class="f2" x="832" y="732">nfts</text></g>
<g id="n-creation"><circle class="s" cx="933" cy="885" r="7"/><text class="f1" x="933" y="890">creation</text></g>
<g id="n-surgery"><circle class="o" cx="573" cy="975" r="7"/><text class="f1" x="573" y="979">surgery</text></g>
<g id="n-disability"><circle class="o" cx="1013" cy="996" r="7"/><text class="f2" x="1012" y="1001">disability</text></g>
<g id="n-fuzzy-sets"><circle class="g" cx="540" cy="1020" r="7"/><text class="f1" x="540" y="1026">fuzzy sets</text></g>
<g id="n-digital-health"><circle class="o" cx="895" cy="1035" r="7"/><text class="f1" x="894" y="1040">digital health</text></g>
<g id="n-ar"><circle class="s" cx="963" cy="1209" r="7"/><text class="f1" x="963" y="1214">ar</text></g>
<g id="n-governance"><circle class="b" cx="532" cy="139" r="6"/><text class="f1" x="533" y="143">governance</text></g>
<g id="n-democracy"><circle class="b" cx="667" cy="190" r="6"/><text class="f1" x="667" y="195">democracy</text></g>
<g id="n-fusion"><circle class="b" cx="606" cy="230" r="6"/><text class="f1" x="606" y="235">fusion</text></g>
<g id="n-taxonomy"><circle class="pk" cx="782" cy="269" r="6"/><text class="f1" x="782" y="274">taxonomy</text></g>
<g id="n-science"><circle class="pk" cx="821" cy="336" r="6"/><text class="f3" x="820" y="341">science</text></g>
<g id="n-state"><circle class="pk" cx="650" cy="507" r="6"/><text class="f1" x="642" y="511">state</text></g>
<g id="n-ecology"><circle class="br" cx="509" cy="520" r="6"/><text class="f1" x="508" y="523">ecology</text></g>
<g id="n-ethics"><circle class="br" cx="762" cy="528" r="6"/><text class="f3" x="762" y="532">ethics</text></g>
<g id="n-task-analysis"><circle class="g" cx="493" cy="620" r="6"/><text class="f1" x="493" y="625">task analysis</text></g>
<g id="n-loyalty"><circle class="r" cx="1284" cy="676" r="6"/><text class="f1" x="1283" y="683">loyalty</text></g>
<g id="n-x-reality"><circle class="g" cx="281" cy="727" r="6"/><text class="f1" x="283" y="732">x reality</text></g>
<g id="n-facebook"><circle class="pk" cx="922" cy="709" r="6"/><text class="f2" x="922" y="714">facebook</text></g>
<g id="n-skills"><circle class="o" cx="657" cy="757" r="6"/><text class="f1" x="657" y="762">skills</text></g>
<g id="n-incentive-mechanism"><circle class="g" cx="255" cy="838" r="6"/><text class="f2" x="253" y="842">incentive mechanism</text></g>
<g id="n-people"><circle class="p" cx="1076" cy="836" r="6"/><text class="f2" x="1076" y="839">people</text></g>
<g id="n-3d"><circle class="c" cx="750" cy="1170" r="6"/><text class="f1" x="751" y="1171">3d</text></g>
<g id="n-virtualization"><circle class="b" cx="660" cy="91" r="5"/><text class="f1" x="660" y="96">virtualization</text></g>
<g id="n-cyberspace"><circle class="b" cx="600" cy="268" r="5"/><text class="f1" x="604" y="270">cyberspace</text></g>
<g id="n-city"><circle class="b" cx="672" cy="266" r="5"/><text class="f1" x="672" y="271">city</text></g>
<g id="n-decision-making"><circle class="r" cx="1060" cy="261" r="5"/><text class="f1" x="1060" y="266">decision-making</text></g>
<g id="n-self-efficacy"><circle class="r" cx="1250" cy="312" r="5"/><text class="f1" x="1250" y="315">self-efficacy</text></g>
<g id="n-smart-contracts"><circle class="b" cx="360" cy="335" r="5"/><text class="f1" x="359" y="336">smart contracts</text></g>
<g id="n-cpss"><circle class="b" cx="466" cy="333" r="5"/><text class="f1" x="467" y="336">cpss</text></g>
<g id="n-law"><circle class="b" cx="569" cy="341" r="5"/><text class="f1" x="569" y="344">law</text></g>
<g id="n-intelligence"><circle class="b" cx="406" cy="368" r="5"/><text class="f1" x="406" y="373">intelligence</text></g>
<g id="n-environment"><circle class="b" cx="833" cy="434" r="5"/><text class="f1" x="833" y="439">environment</text></g>
<g id="n-resource"><circle class="g" cx="231" cy="450" r="5"/><text class="f1" x="231" y="455">resource</text></g>
<g id="n-maintenance-engineering"><circle class="g" cx="272" cy="510" r="5"/><text class="f1" x="272" y="514">maintenance engineering</text></g>
<g id="n-cnn"><circle class="g" cx="137" cy="532" r="5"/><text class="f1" x="137" y="537">cnn</text></g>
<g id="n-quality-of-service"><circle class="g" cx="173" cy="591" r="5"/><text class="f1" x="172" y="595">quality of service</text></g>
<g id="n-6g-mobile-communication"><circle class="g" cx="187" cy="621" r="5"/><text class="f1" x="185" y="626">6g mobile communication</text></g>
<g id="n-validity"><circle class="r" cx="1342" cy="610" r="5"/><text class="f1" x="1342" y="613">validity</text></g>
<g id="n-twitter"><circle class="or" cx="1448" cy="638" r="5"/><text class="f1" x="1448" y="645">twitter</text></g>
<g id="n-mobile-edge-computing"><circle class="g" cx="110" cy="706" r="5"/><text class="f1" x="107" y="710">mobile edge computing</text></g>
<g id="n-consumer"><circle class="r" cx="1290" cy="722" r="5"/><text class="f1" x="1290" y="727">consumer</text></g>
<g id="n-educational-innovation"><circle class="or" cx="1417" cy="750" r="5"/><text class="f2" x="1417" y="755">educational innovation</text></g>
<g id="n-context"><circle class="br" cx="1197" cy="744" r="5"/><text class="f1" x="1197" y="749">context</text></g>
<g id="n-online-games"><circle class="or" cx="1460" cy="789" r="5"/><text class="f1" x="1460" y="794">online games</text></g>
<g id="n-buildings"><circle class="g" cx="429" cy="796" r="5"/><text class="f1" x="429" y="801">buildings</text></g>
<g id="n-anatomy"><circle class="p" cx="848" cy="799" r="5"/><text class="f1" x="849" y="804">anatomy</text></g>
<g id="n-scale"><circle class="c" cx="1128" cy="811" r="5"/><text class="f1" x="1128" y="816">scale</text></g>
<g id="n-learning-outcomes"><circle class="or" cx="1414" cy="844" r="5"/><text class="f1" x="1414" y="849">learning outcomes</text></g>
<g id="n-computer"><circle class="p" cx="788" cy="849" r="5"/><text class="f1" x="788" y="852">computer</text></g>
<g id="n-emotion"><circle class="c" cx="1036" cy="869" r="5"/><text class="f1" x="1035" y="871">emotion</text></g>
<g id="n-virtual-environments"><circle class="or" cx="1184" cy="876" r="5"/><text class="f2" x="1184" y="881">virtual environments</text></g>
<g id="n-music"><circle class="c" cx="735" cy="890" r="5"/><text class="f1" x="736" y="892">music</text></g>
<g id="n-autism"><circle class="p" cx="860" cy="905" r="5"/><text class="f1" x="859" y="910">autism</text></g>
<g id="n-addiction"><circle class="or" cx="1167" cy="923" r="5"/><text class="f1" x="1167" y="928">addiction</text></g>
<g id="n-energy"><circle class="o" cx="400" cy="931" r="5"/><text class="f1" x="400" y="934">energy</text></g>
<g id="n-benefits"><circle class="p" cx="793" cy="925" r="5"/><text class="f1" x="792" y="930">benefits</text></g>
<g id="n-deep-reinforcement-learning"><circle class="g" cx="155" cy="940" r="5"/><text class="f1" x="154" y="945">deep reinforcement learning</text></g>
<g id="n-emotions"><circle class="c" cx="775" cy="969" r="5"/><text class="f1" x="774" y="973">emotions</text></g>
<g id="n-edge-computing"><circle class="g" cx="255" cy="990" r="5"/><text class="f2" x="255" y="995">edge computing</text></g>
<g id="n-animation"><circle class="or" cx="1368" cy="998" r="5"/><text class="f1" x="1368" y="1003">animation</text></g>
<g id="n-disease"><circle class="o" cx="714" cy="1027" r="5"/><text class="f1" x="716" y="1029">disease</text></g>
<g id="n-customer-experience"><circle class="s" cx="1115" cy="1044" r="5"/><text class="f1" x="1115" y="1048">customer experience</text></g>
<g id="n-presence"><circle class="p" cx="900" cy="1065" r="5"/><text class="f1" x="900" y="1068">presence</text></g>
<g id="n-survey"><circle class="p" cx="964" cy="1079" r="5"/><text class="f1" x="965" y="1083">survey</text></g>
<g id="n-multi-criteria-decision-making"><circle class="g" cx="488" cy="1090" r="5"/><text class="f1" x="488" y="1095">multi-criteria decision making</text></g>
<g id="n-diagnosis"><circle class="c" cx="718" cy="1108" r="5"/><text class="f1" x="717" y="1110">diagnosis</text></g>
<g id="n-museum"><circle class="s" cx="554" cy="1185" r="5"/><text class="f1" x="554" y="1189">museum</text></g>
<g id="n-text"><circle class="c" cx="786" cy="1163" r="5"/><text class="f1" x="786" y="1167">text</text></g>
<g id="n-navigation"><circle class="br" cx="458" cy="22" r="4"/><text class="f1" x="457" y="26">navigation</text></g>
<g id="n-maintenance"><circle class="o" cx="823" cy="68" r="4"/><text class="f1" x="823" y="73">maintenance</text></g>
<g id="n-digital-technologies"><circle class="lp" cx="762" cy="128" r="4"/><text class="f1" x="773" y="129">digital technologies</text></g>
<g id="n-serious-game"><circle class="lg" cx="1190" cy="157" r="4"/><text class="f1" x="1189" y="162">serious game</text></g>
<g id="n-interaction"><circle class="lg" cx="1280" cy="203" r="4"/><text class="f1" x="1280" y="208">interaction</text></g>
<g id="n-attention-economy"><circle class="b" cx="447" cy="216" r="4"/><text class="f1" x="447" y="221">attention economy</text></g>
<g id="n-traceability"><circle class="b" cx="279" cy="247" r="4"/><text class="f1" x="279" y="252">traceability</text></g>
<g id="n-artificial-intelligence-ai"><circle class="g" cx="820" cy="229" r="4"/><text class="f1" x="821" y="234">artificial intelligence (ai)</text></g>
<g id="n-feedback"><circle class="pk" cx="970" cy="233" r="4"/><text class="f1" x="970" y="238">feedback</text></g>
<g id="n-online-learning"><circle class="lg" cx="1146" cy="227" r="4"/><text class="f1" x="1146" y="232">online learning</text></g>
<g id="n-virtual-space"><circle class="r" cx="1306" cy="250" r="4"/><text class="f1" x="1306" y="255">virtual space</text></g>
<g id="n-industry-5"><circle class="b" cx="449" cy="263" r="4"/><text class="f1" x="449" y="268">industry 5</text></g>
<g id="n-support"><circle class="pk" cx="924" cy="279" r="4"/><text class="f1" x="924" y="284">support</text></g>
<g id="n-scheme"><circle class="b" cx="265" cy="301" r="4"/><text class="f1" x="265" y="306">scheme</text></g>
<g id="n-moderating-role"><circle class="lb" cx="937" cy="320" r="4"/><text class="f1" x="937" y="324">moderating role</text></g>
<g id="n-behavioral-intention"><circle class="r" cx="1337" cy="344" r="4"/><text class="f1" x="1336" y="345">behavioral intention</text></g>
<g id="n-mobile"><circle class="r" cx="1343" cy="481" r="4"/><text class="f1" x="1343" y="486">mobile</text></g>
<g id="n-language"><circle class="or" cx="1516" cy="488" r="4"/><text class="f1" x="1516" y="493">language</text></g>
<g id="n-activity-recognition"><circle class="o" cx="370" cy="899" r="4"/><text class="f1" x="369" y="903">activity recognition</text></g>
<g id="n-university"><circle class="or" cx="1419" cy="909" r="4"/><text class="f1" x="1419" y="914">university</text></g>
<g id="n-adolescents"><circle class="p" cx="1067" cy="932" r="4"/><text class="f1" x="1067" y="935">adolescents</text></g>
<g id="n-immersive-learning"><circle class="or" cx="1431" cy="968" r="4"/><text class="f1" x="1431" y="973">immersive learning</text></g>
<g id="n-smart-grids"><circle class="p" cx="449" cy="1012" r="4"/><text class="f1" x="449" y="1017">smart grids</text></g>
<g id="n-opensim"><circle class="s" cx="1318" cy="1049" r="4"/><text class="f1" x="1318" y="1054">opensim</text></g>
<g id="n-consumer-research"><circle class="s" cx="1090" cy="1088" r="4"/><text class="f1" x="1090" y="1090">consumer research</text></g>
<g id="n-xr"><circle class="s" cx="902" cy="1207" r="4"/><text class="f1" x="903" y="1212">xr</text></g>
</g>
</g>
</svg>
